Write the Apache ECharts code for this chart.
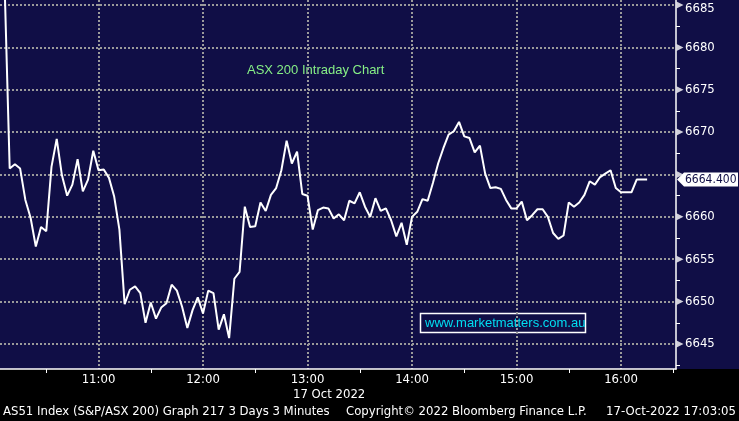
<!DOCTYPE html>
<html><head><meta charset="utf-8">
<script src="https://cdn.jsdelivr.net/npm/echarts@6/dist/echarts.min.js"></script>
<style>html,body{margin:0;padding:0;background:#000;}#c{width:739px;height:421px;}</style>
</head><body><div id="c"></div>
<script>
// ---- data ----
const startMinute = 606;   // first 3-minute bar: 10:06
const stepMinutes = 3;
const prices = [
  6688.0, 6665.7, 6666.2, 6665.7, 6662.0, 6659.9, 6656.5, 6658.8, 6658.3, 6665.9,
  6669.2, 6664.9, 6662.5, 6663.8, 6666.8, 6663.0, 6664.4, 6667.8, 6665.5, 6665.6,
  6664.6, 6662.4, 6658.5, 6649.7, 6651.4, 6651.8, 6651.0, 6647.5, 6649.9, 6648.0,
  6649.3, 6649.8, 6652.0, 6651.3, 6649.4, 6646.9, 6649.0, 6650.5, 6648.6, 6651.3,
  6651.0, 6646.7, 6648.5, 6645.7, 6652.7, 6653.5, 6661.2, 6658.8, 6658.9, 6661.7,
  6660.7, 6662.6, 6663.4, 6665.5, 6669.0, 6666.3, 6667.7, 6662.7, 6662.5, 6658.5,
  6660.8, 6661.1, 6661.0, 6659.8, 6660.3, 6659.6, 6661.9, 6661.6, 6662.9, 6661.2,
  6660.0, 6662.2, 6660.7, 6661.0, 6659.6, 6657.7, 6659.3, 6656.7, 6660.0, 6660.6,
  6662.1, 6661.9, 6664.0, 6666.3, 6668.1, 6669.7, 6670.1, 6671.2, 6669.5, 6669.3,
  6667.6, 6668.4, 6665.1, 6663.4, 6663.5, 6663.3, 6662.0, 6661.0, 6661.0, 6661.8,
  6659.6, 6660.2, 6660.9, 6660.9, 6660.0, 6658.1, 6657.4, 6657.8, 6661.7, 6661.2,
  6661.7, 6662.6, 6664.2, 6663.8, 6664.7, 6665.1, 6665.5, 6663.4, 6662.9, 6662.9,
  6662.9, 6664.4, 6664.4, 6664.4
];
const hourTicks = [660, 720, 780, 840, 900, 960];
const halfHourTicks = [630, 690, 750, 810, 870, 930, 990];
const priceTicks = [6645, 6650, 6655, 6660, 6665, 6670, 6675, 6680, 6685];
const minorPriceTicks = [6642.5, 6647.5, 6652.5, 6657.5, 6662.5, 6667.5, 6672.5, 6677.5, 6682.5];
const lastPrice = 6664.4;
const chartTitle = 'ASX 200 Intraday Chart';
const watermark = 'www.marketmatters.com.au';
const dateLabel = '17 Oct 2022';
const footerLeft = 'AS51 Index (S&P/ASX 200) Graph 217 3 Days 3 Minutes';
const footerMid = 'Copyright\u00A9 2022 Bloomberg Finance L.P.';
const footerRight = '17-Oct-2022 17:03:05';

// ---- chart ----
const NAVY = '#100e46';
const FONT = '"DejaVu Sans Condensed", "Liberation Sans Narrow", sans-serif';
const X_MIN = 603.44, X_MAX = 991.57;
const Y_MIN = 6642.05, Y_MAX = 6685.59;

const lineData = prices.map((p, i) => [startMinute + i * stepMinutes, p]);
const fmtTime = v => { const h = Math.floor(v / 60), m = Math.round(v % 60); return h + ':' + (m < 10 ? '0' : '') + m; };

const chart = echarts.init(document.getElementById('c'), null, {renderer: 'canvas'});
const baseGraphics = [
  {id: 'band', type: 'rect', z: -10, shape: {x: 0, y: 369, width: 739, height: 52}, style: {fill: '#000'}},
  {id: 'title', type: 'text', x: 247, y: 70, style: {text: chartTitle, fill: '#86ef86', font: '13px "Liberation Sans", Arial, sans-serif', verticalAlign: 'middle'}},
  {id: 'wmbox', type: 'rect', shape: {x: 420.5, y: 313.5, width: 165, height: 19}, style: {fill: 'none', stroke: '#fff', lineWidth: 1.5}},
  {id: 'wm', type: 'text', x: 425, y: 323, style: {text: watermark, fill: '#00def2', font: '13px "Liberation Sans", Arial, sans-serif', verticalAlign: 'middle'}},
  {id: 'date', type: 'text', x: 293, y: 395, style: {text: dateLabel, fill: '#fff', font: '13px ' + FONT, verticalAlign: 'middle'}},
  {id: 'f1', type: 'text', x: 3, y: 412, style: {text: footerLeft, fill: '#fff', font: '13px ' + FONT, verticalAlign: 'middle'}},
  {id: 'f2', type: 'text', x: 346, y: 412, style: {text: footerMid, fill: '#fff', font: '13px ' + FONT, verticalAlign: 'middle'}},
  {id: 'f3', type: 'text', x: 736, y: 412, style: {text: footerRight, fill: '#fff', font: '13px ' + FONT, verticalAlign: 'middle', align: 'right'}}
];

const gridStyle = {type: [2, 2], color: '#9a9a9a', width: 2};

chart.setOption({
  animation: false,
  backgroundColor: NAVY,
  grid: {left: 0, top: 0, width: 676, height: 369, containLabel: false},
  xAxis: [
    {
      type: 'value', min: X_MIN, max: X_MAX, position: 'bottom',
      axisLine: {show: true, lineStyle: {color: '#fff', width: 1.5}},
      axisTick: {show: false, customValues: hourTicks},
      axisLabel: {customValues: hourTicks, formatter: fmtTime, color: '#fff', fontSize: 13, fontFamily: FONT, margin: 4},
      splitLine: {show: true, lineStyle: gridStyle}
    },
    {
      type: 'value', min: X_MIN, max: X_MAX, position: 'bottom',
      axisLine: {show: false},
      axisTick: {show: true, customValues: halfHourTicks, length: 4, lineStyle: {color: '#fff', width: 1}},
      axisLabel: {show: false},
      splitLine: {show: false}
    }
  ],
  yAxis: [
    {
      type: 'value', min: Y_MIN, max: Y_MAX, position: 'right',
      axisLine: {show: true, lineStyle: {color: '#fff', width: 1.5}},
      axisTick: {show: false, customValues: priceTicks},
      axisLabel: {
        customValues: priceTicks, color: '#fff', fontSize: 13, fontFamily: FONT, margin: 9,
        formatter: v => Math.abs(v - lastPrice) < 2.5 ? '' : (v === 6685 ? '{t|6685}' : String(v)),
        rich: {t: {color: '#fff', fontSize: 13, fontFamily: FONT, padding: [8, 0, 0, 0]}}
      },
      splitLine: {show: true, lineStyle: gridStyle}
    },
    {
      type: 'value', min: Y_MIN, max: Y_MAX, position: 'right',
      axisLine: {show: false},
      axisTick: {show: true, customValues: minorPriceTicks, length: 4, lineStyle: {color: '#fff', width: 1}},
      axisLabel: {show: false},
      splitLine: {show: false}
    }
  ],
  series: [
    {
      type: 'line', xAxisIndex: 0, yAxisIndex: 0, data: lineData,
      showSymbol: false, symbol: 'none', clip: true,
      lineStyle: {color: '#ffffff', width: 2}
    },
    {
      type: 'scatter', xAxisIndex: 0, yAxisIndex: 0, clip: false, silent: true,
      data: priceTicks.map(v => [X_MAX, v]),
      symbol: 'path://M0,0L10,5L0,10Z', symbolSize: [7, 7], symbolOffset: [4, 0],
      itemStyle: {color: '#fff'}
    }
  ],
  graphic: baseGraphics
});

const py = chart.convertToPixel({yAxisIndex: 0}, lastPrice);
chart.setOption({
  graphic: baseGraphics.concat([
    {id: 'tag', type: 'polygon', z: 100, shape: {points: [[677, py], [684, py - 7], [738, py - 7], [738, py + 7], [684, py + 7]]}, style: {fill: '#fff'}},
    {id: 'tagtxt', type: 'text', z: 101, x: 685, y: py + 0.5, style: {text: lastPrice.toFixed(3), fill: NAVY, font: '12px ' + FONT, verticalAlign: 'middle'}}
  ])
});
</script></body></html>
